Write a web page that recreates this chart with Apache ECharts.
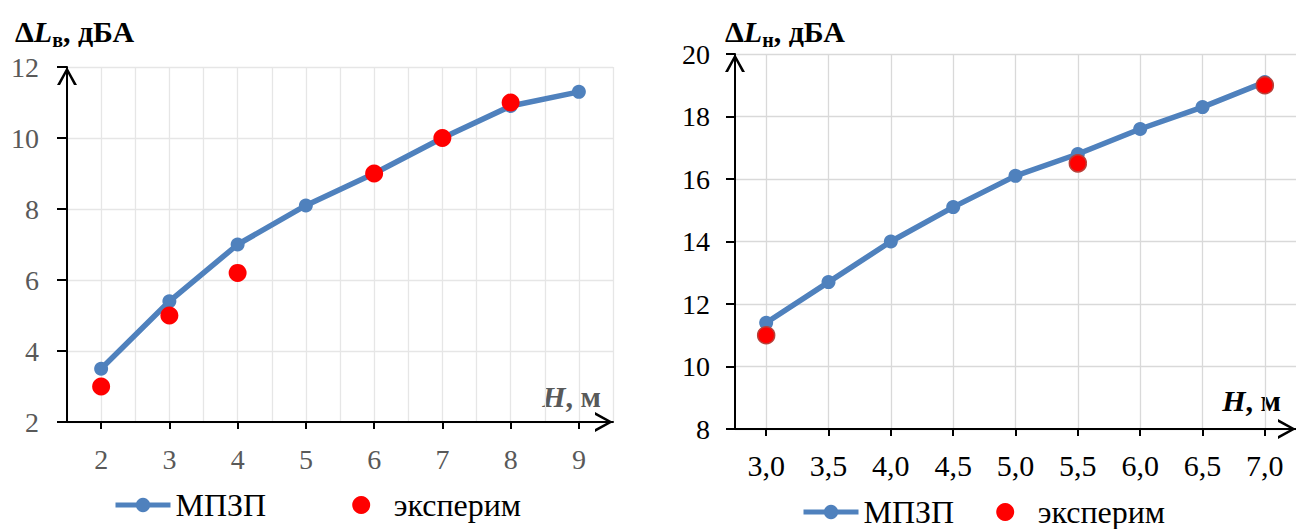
<!DOCTYPE html>
<html>
<head>
<meta charset="utf-8">
<script src="https://cdn.jsdelivr.net/npm/echarts@6/dist/echarts.min.js"></script>
<style>
html,body{margin:0;padding:0;background:#fff;}
#c{width:1296px;height:529px;}
</style>
</head>
<body>
<div id="c"></div>
<script>
// ---- data ----
const leftCategories = ['2', '3', '4', '5', '6', '7', '8', '9'];
const leftModel = [3.5, 5.4, 7.0, 8.1, 9.0, 10.0, 10.9, 11.3];
const leftExperiment = [3.0, 5.0, 6.2, '-', 9.0, 10.0, 11.0, '-'];
const leftYMin = 2, leftYMax = 12, leftYStep = 2;

const rightCategories = ['3,0', '3,5', '4,0', '4,5', '5,0', '5,5', '6,0', '6,5', '7,0'];
const rightModel = [11.4, 12.7, 14.0, 15.1, 16.1, 16.8, 17.6, 18.3, 19.1];
const rightExperiment = [11.0, '-', '-', '-', '-', 16.5, '-', '-', 19.0];
const rightYMin = 8, rightYMax = 20, rightYStep = 2;

const seriesNames = ['МПЗП', 'эксперим'];

// ---- styles ----
const FONT = '"Liberation Serif", "Times New Roman", serif';
const BLUE = '#4F81BD';
const RED = '#FF0000';
const GREY = '#595959';
const ARROW = 'path://M0,18L10,0L20,18L17,18L10,5L3,18Z';

const chart = echarts.init(document.getElementById('c'), null, {renderer: 'svg'});

function axisLineArrow() {
  return {
    show: true,
    symbol: ['none', ARROW],
    symbolSize: [20, 18],
    symbolOffset: [0, -9],
    lineStyle: {color: '#000', width: 2}
  };
}

function titleRich(color) {
  return {
    m: {fontFamily: FONT, fontSize: 30, fontWeight: 'bold', fill: color, lineHeight: 38},
    i: {fontFamily: FONT, fontSize: 30, fontWeight: 'bold', fontStyle: 'italic', fill: color, lineHeight: 38},
    s: {fontFamily: FONT, fontSize: 20, fontWeight: 'bold', fill: color, verticalAlign: 'bottom', lineHeight: 20}
  };
}

const option = {
  animation: false,
  backgroundColor: '#fff',
  grid: [
    {left: 67, top: 67, width: 546, height: 355},
    {left: 735, top: 54, width: 561, height: 375},
    {left: 766, top: 54, width: 499, height: 375}
  ],
  xAxis: [
    { // left: categories
      type: 'category', gridIndex: 0, data: leftCategories, boundaryGap: true,
      axisLine: axisLineArrow(),
      axisTick: {show: true, alignWithLabel: true, length: 7, lineStyle: {color: '#000', width: 2}},
      axisLabel: {color: GREY, fontFamily: FONT, fontSize: 28, margin: 23},
      splitLine: {show: false}
    },
    { // left: grid lines at half steps
      type: 'value', gridIndex: 0, min: 1.5, max: 9.5, interval: 0.5,
      axisLine: {show: false}, axisTick: {show: false}, axisLabel: {show: false},
      splitLine: {show: true, lineStyle: {color: '#E6E6E6', width: 1.3}}
    },
    { // right: categories
      type: 'category', gridIndex: 1, data: rightCategories, boundaryGap: true,
      axisLine: axisLineArrow(),
      axisTick: {show: true, alignWithLabel: true, length: 7, lineStyle: {color: '#000', width: 2}},
      axisLabel: {color: '#000', fontFamily: FONT, fontSize: 30, margin: 21},
      splitLine: {show: false}
    },
    { // right: vertical grid lines
      type: 'value', gridIndex: 2, min: 3, max: 7, interval: 0.5,
      axisLine: {show: false}, axisTick: {show: false}, axisLabel: {show: false},
      splitLine: {show: true, lineStyle: {color: '#D9D9D9', width: 1.3}}
    }
  ],
  yAxis: [
    {
      type: 'value', gridIndex: 0, min: leftYMin, max: leftYMax, interval: leftYStep,
      axisLine: axisLineArrow(),
      axisTick: {show: true, length: 10, lineStyle: {color: '#000', width: 2}},
      axisLabel: {color: GREY, fontFamily: FONT, fontSize: 28, margin: 28},
      splitLine: {show: true, lineStyle: {color: '#E6E6E6', width: 1.3}}
    },
    {
      type: 'value', gridIndex: 1, min: rightYMin, max: rightYMax, interval: rightYStep,
      axisLine: axisLineArrow(),
      axisTick: {show: true, length: 9, lineStyle: {color: '#000', width: 2}},
      axisLabel: {color: '#000', fontFamily: FONT, fontSize: 28, margin: 25},
      splitLine: {show: true, lineStyle: {color: '#D9D9D9', width: 1.3}}
    },
    {
      type: 'value', gridIndex: 2, min: rightYMin, max: rightYMax,
      show: false
    }
  ],
  legend: [
    {
      left: 113, top: 489, padding: 0, itemWidth: 55, itemHeight: 18, itemGap: 86,
      data: seriesNames,
      lineStyle: {width: 5},
      textStyle: {color: '#000', fontFamily: FONT, fontSize: 32},
      selectedMode: false
    },
    {
      left: 801, top: 496, padding: 0, itemWidth: 55, itemHeight: 18, itemGap: 42,
      data: seriesNames,
      lineStyle: {width: 5},
      textStyle: {color: '#000', fontFamily: FONT, fontSize: 32},
      selectedMode: false
    }
  ],
  series: [
    {
      name: seriesNames[0], type: 'line', xAxisIndex: 0, yAxisIndex: 0,
      data: leftModel, symbol: 'circle', symbolSize: 14,
      itemStyle: {color: BLUE}, lineStyle: {color: BLUE, width: 5.5}, z: 3
    },
    {
      name: seriesNames[1], type: 'scatter', xAxisIndex: 0, yAxisIndex: 0,
      data: leftExperiment, symbol: 'circle', symbolSize: 18,
      itemStyle: {color: RED, opacity: 1}, z: 4
    },
    {
      name: seriesNames[0], type: 'line', xAxisIndex: 2, yAxisIndex: 1,
      data: rightModel, symbol: 'circle', symbolSize: 14,
      itemStyle: {color: BLUE}, lineStyle: {color: BLUE, width: 5.5}, z: 3
    },
    {
      name: seriesNames[1], type: 'scatter', xAxisIndex: 2, yAxisIndex: 1,
      data: rightExperiment, symbol: 'circle', symbolSize: 17,
      itemStyle: {color: RED, opacity: 1, borderColor: '#B8403A', borderWidth: 1.5}, z: 4
    }
  ],
  graphic: [
    {
      type: 'text', x: 15, y: 31,
      style: {text: '{m|Δ}{i|L}{s|в}{m|, дБА}', verticalAlign: 'middle', align: 'left', rich: titleRich('#000')}
    },
    {
      type: 'text', x: 725, y: 31,
      style: {text: '{m|Δ}{i|L}{s|н}{m|, дБА}', verticalAlign: 'middle', align: 'left', rich: titleRich('#000')}
    },
    {
      type: 'text', x: 601, y: 396,
      style: {
        text: '{i|H}{m|, м}', verticalAlign: 'middle', align: 'right',
        rich: {
          i: {fontFamily: FONT, fontSize: 30, fontWeight: 'bold', fontStyle: 'italic', fill: GREY},
          m: {fontFamily: FONT, fontSize: 30, fontWeight: 'bold', fill: GREY}
        }
      }
    },
    {
      type: 'text', x: 1281, y: 400,
      style: {
        text: '{i|H}{m|, м}', verticalAlign: 'middle', align: 'right',
        rich: {
          i: {fontFamily: FONT, fontSize: 30, fontWeight: 'bold', fontStyle: 'italic', fill: '#000'},
          m: {fontFamily: FONT, fontSize: 30, fontWeight: 'bold', fill: '#000'}
        }
      }
    }
  ]
};
chart.setOption(option);
</script>
</body>
</html>
